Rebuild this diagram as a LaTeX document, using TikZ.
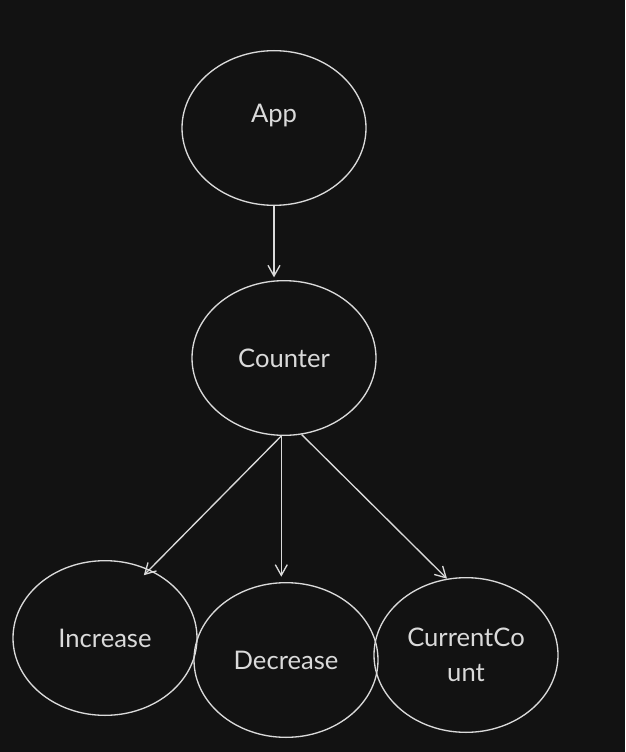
\documentclass[tikz,border=0pt]{standalone}
\usepackage{fontspec}
\setmainfont{Lato}
\usetikzlibrary{shapes.geometric,arrows.meta}
\definecolor{bg}{HTML}{121212}
\definecolor{ink}{HTML}{DADADA}

\begin{document}
\begin{tikzpicture}[x=0.75pt,y=-0.75pt,
  word/.style={text=ink,font=\fontsize{19.2}{26}\selectfont,align=center},
  bubble/.style={draw=ink,line width=1pt,ellipse,minimum width=138pt,minimum height=116pt,inner sep=0pt,word},
  arr/.style={draw=ink,line width=1pt,-{Straight Barb[length=8pt,width=9pt]}}]
\fill[bg] (0,0) rectangle (625,752);
\useasboundingbox (0,0) rectangle (625,752);
\node[bubble,label={[word,yshift=9pt]center:App}] (app) at (274,128) {};
\node[bubble] (counter) at (284,358) {Counter};
\node[bubble] (increase) at (105,638) {Increase};
\node[bubble] (decrease) at (286,660) {Decrease};
\node[bubble] (current) at (466,655) {CurrentCo\\unt};
\draw[arr,shorten >=2pt] (app.south) -- (app.south |- counter.north);
\draw[arr,shorten >=-6pt] (counter.-92) -- (increase.57);
\draw[arr,shorten >=4pt] (counter.-92) -- (counter.-92 |- decrease.north);
\draw[arr] (counter.-77) -- (current.104);
\end{tikzpicture}
\end{document}
